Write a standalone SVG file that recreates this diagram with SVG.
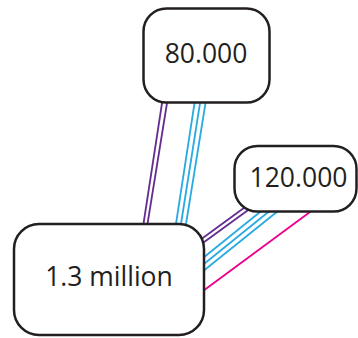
<svg xmlns="http://www.w3.org/2000/svg" width="358" height="338" viewBox="0 0 358 338">
<style>
.box{fill:#fff;stroke:#231f20;stroke-width:2.5}
.lbl{font-family:"Open Sans","Liberation Sans",sans-serif;font-size:26.5px;fill:#231f20;text-anchor:middle}
.c{fill:none;stroke-width:1.8}
.p{stroke:#662d91}
.b{stroke:#29abe2}
.m{stroke:#ec008c}
</style>
<rect width="358" height="338" fill="#fff"/>
<g id="connectors">
<line class="c p" x1="162.5" y1="100" x2="143" y2="227"/>
<line class="c p" x1="167.5" y1="100" x2="147" y2="227"/>
<line class="c b" x1="195" y1="100" x2="175.5" y2="227"/>
<line class="c b" x1="200.5" y1="100" x2="180.5" y2="227"/>
<line class="c b" x1="206" y1="100" x2="185.5" y2="227"/>
<line class="c p" x1="247.3" y1="205.4" x2="198.3" y2="241.3"/>
<line class="c p" x1="252.3" y1="207.1" x2="198" y2="246.4"/>
<line class="c b" x1="265" y1="208" x2="203" y2="258"/>
<line class="c b" x1="273.3" y1="208" x2="203" y2="264.7"/>
<line class="c b" x1="281.7" y1="208" x2="203" y2="271.3"/>
<line class="c m" x1="315.4" y1="208" x2="203" y2="291"/>
</g>
<g id="node-80000">
<rect class="box" x="143.5" y="8.5" width="126" height="94" rx="23"/>
<text class="lbl" x="206" y="63">80.000</text>
</g>
<g id="node-120000">
<rect class="box" x="234.5" y="146" width="122" height="65.5" rx="23"/>
<text class="lbl" x="298.5" y="186.5">120.000</text>
</g>
<g id="node-13million">
<rect class="box" x="14" y="224" width="190" height="111" rx="25"/>
<text class="lbl" x="109" y="286">1.3 million</text>
</g>
</svg>
